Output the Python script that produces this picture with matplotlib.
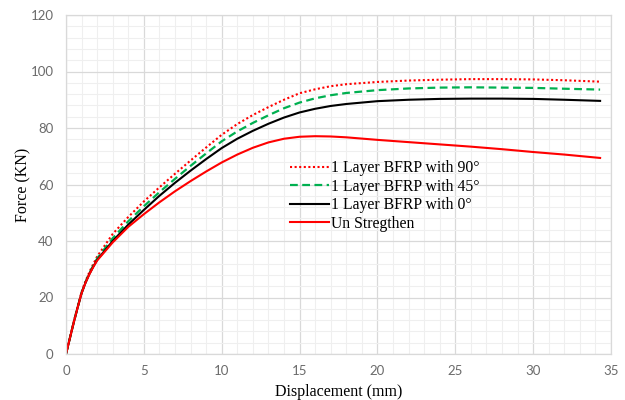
import matplotlib
matplotlib.use("Agg")
import matplotlib.pyplot as plt
from matplotlib.ticker import MultipleLocator

# load-displacement readings (mm, kN)
displacement = [0, 0.5, 0.75, 1, 1.25, 1.5, 1.75, 2, 3, 4, 5, 6, 7, 8, 9, 10,
                11, 12, 13, 14, 15, 16, 17, 18, 20, 22, 24, 26, 28, 30, 32,
                34.3]

bfrp_90 = [0, 11.5, 16.8, 22, 25.8, 29, 31.8, 34.5, 42.5, 48.5, 54, 59, 63.8,
           68.5, 73.1, 77.6, 81.4, 84.6, 87.4, 90.0, 92.3, 93.7, 94.8, 95.5,
           96.3, 96.8, 97.1, 97.3, 97.3, 97.2, 96.9, 96.4]
bfrp_45 = [0, 11.3, 16.6, 21.7, 25.4, 28.6, 31.3, 33.8, 41, 47, 52.3, 57.3,
           62, 66.6, 71, 75.3, 78.8, 81.8, 84.5, 87, 89, 90.5, 91.6, 92.4,
           93.4, 94.0, 94.3, 94.4, 94.3, 94.2, 93.9, 93.6]
bfrp_0 = [0, 11.2, 16.5, 21.5, 25.2, 28.3, 30.9, 33.3, 40, 45.8, 51, 56,
          60.6, 64.9, 69, 72.9, 76.2, 79, 81.5, 83.7, 85.5, 86.8, 87.8, 88.5,
          89.5, 90.0, 90.3, 90.4, 90.4, 90.3, 90.0, 89.6]
unstrengthened = [0, 11.2, 16.5, 21.5, 25.2, 28.2, 30.8, 33.1, 39.5, 45,
                  49.5, 53.7, 57.6, 61.2, 64.6, 67.8, 70.6, 73.0, 74.9, 76.2,
                  76.9, 77.1, 77.0, 76.7, 75.8, 75.0, 74.2, 73.4, 72.5, 71.5,
                  70.6, 69.4]

labels = ["1 Layer BFRP with 90°", "1 Layer BFRP with 45°",
          "1 Layer BFRP with 0°", "Un Stregthen"]

serif = "Liberation Serif"
tick_font = "Lato"

fig = plt.figure(figsize=(6.25, 4), dpi=100)
ax = fig.add_axes([0.1056, 0.115, 0.872, 0.8475])

ax.plot(displacement, bfrp_90, color="#ff0000", lw=1.5,
        linestyle=(0, (1, 1.2)), label=labels[0])
ax.plot(displacement, bfrp_45, color="#00b050", lw=1.6,
        linestyle=(0, (3.5, 2)), label=labels[1])
ax.plot(displacement, bfrp_0, color="black", lw=1.5, label=labels[2])
ax.plot(displacement, unstrengthened, color="#ff0000", lw=1.5, label=labels[3])

ax.set_xlim(0, 35)
ax.set_ylim(0, 120)
ax.xaxis.set_major_locator(MultipleLocator(5))
ax.xaxis.set_minor_locator(MultipleLocator(1))
ax.yaxis.set_major_locator(MultipleLocator(20))
ax.yaxis.set_minor_locator(MultipleLocator(4))
ax.grid(which="major", color="#d9d9d9", lw=0.9)
ax.grid(which="minor", color="#efefef", lw=0.8)
ax.set_axisbelow(True)
for s in ax.spines.values():
    s.set_color("#d9d9d9")
    s.set_linewidth(0.9)
ax.tick_params(which="both", length=0, labelsize=9.5, labelcolor="#6b6b6b")
ax.tick_params(axis="x", pad=8)
ax.tick_params(axis="y", pad=9)
for t in ax.get_xticklabels() + ax.get_yticklabels():
    t.set_fontfamily(tick_font)

ax.set_xlabel("Displacement (mm)", fontfamily=serif, fontsize=11.5,
              labelpad=5)
ax.set_ylabel("Force (KN)", fontfamily=serif, fontsize=11.5, labelpad=-1)

ax.legend(loc="upper left", bbox_to_anchor=(0.396, 0.595), frameon=False,
          prop={"family": serif, "size": 11.3}, handlelength=2.5,
          handletextpad=0.15, labelspacing=0.16, borderpad=0)

fig.savefig("out.png", dpi=100)
